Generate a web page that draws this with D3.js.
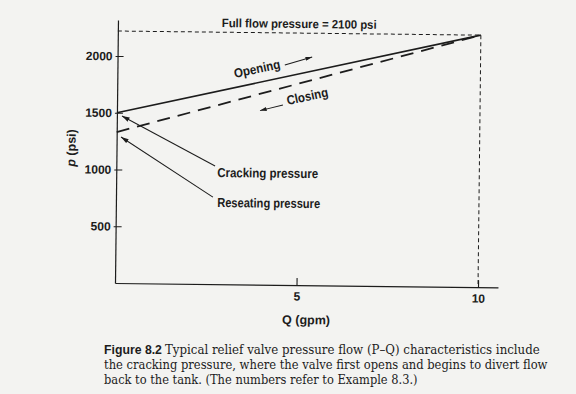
<!DOCTYPE html>
<html>
<head>
<meta charset="utf-8">
<script src="https://cdn.jsdelivr.net/npm/d3@7"></script>
<style>
  html, body { margin: 0; padding: 0; background: #f3f3f1; }
  svg { display: block; }
</style>
</head>
<body>
<svg id="chart" width="576" height="394"></svg>
<script>
// ---- data ----
const flowQ = [0, 10];              // gpm
const openingP = [1500, 2220];      // psi, solid line
const closingP = [1330, 2220];      // psi, dashed line
const fullFlowQ = 10;               // gpm
const fullFlowP = 2220;             // psi (drawn level of the "full flow" dashed line)
const xTicks = [5, 10];
const yTicks = [500, 1000, 1500, 2000];
const titleText = "Full flow pressure = 2100 psi";
const xLabel = "Q (gpm)";
const captionLines = [
  "Typical relief valve pressure flow (P\u2013Q) characteristics include",
  "the cracking pressure, where the valve first opens and begins to divert flow",
  "back to the tank. (The numbers refer to Example 8.3.)"
];

// ---- layout ----
const W = 576, H = 394;
const ink = "#1c1c1c";
const sans = "'Liberation Sans', Arial, Helvetica, sans-serif";
const serif = "'DejaVu Serif', 'Liberation Serif', serif";

const x = d3.scaleLinear().domain([0, 10.55]).range([115, 498]);
const y = d3.scaleLinear().domain([0, 2317]).range([283, 20]);

const svg = d3.select("#chart");
svg.append("rect").attr("width", W).attr("height", H).attr("fill", "#f3f3f1");

const defs = svg.append("defs");
defs.append("marker")
  .attr("id", "head").attr("markerUnits", "userSpaceOnUse")
  .attr("viewBox", "0 0 10 6").attr("refX", 10).attr("refY", 3)
  .attr("markerWidth", 8).attr("markerHeight", 4.6).attr("orient", "auto")
  .append("path").attr("d", "M0,0 L10,3 L0,6 Z").attr("fill", ink);
defs.append("marker")
  .attr("id", "headS").attr("markerUnits", "userSpaceOnUse")
  .attr("viewBox", "0 0 10 6").attr("refX", 10).attr("refY", 3)
  .attr("markerWidth", 7).attr("markerHeight", 4).attr("orient", "auto")
  .append("path").attr("d", "M0,0 L10,3 L0,6 Z").attr("fill", ink);

// whole scanned figure is slightly rotated
const g = svg.append("g").attr("transform", `rotate(0.65, ${x(0)}, ${y(0)})`);

// text placed at (tx,ty), optionally rotated, horizontally scaled to a target width
function fitText(parent, t, tx, ty, len, rot, font, size, weight) {
  const el = parent.append("text").attr("x", 0).attr("y", 0)
    .attr("font-family", font).attr("font-weight", weight || "normal")
    .attr("font-size", size + "px").attr("fill", ink).text(t);
  const n = el.node().getComputedTextLength() || len;
  const sx = len / n;
  el.attr("transform", `translate(${tx},${ty})` + (rot ? ` rotate(${rot})` : "") + ` scale(${sx},1)`);
  return el;
}

// ---- axes ----
const yAxis = d3.axisLeft(y).tickValues(yTicks).tickFormat(d3.format("d"))
  .tickSizeInner(-6).tickSizeOuter(0).tickPadding(5);
const yg = g.append("g").attr("transform", `translate(${x(0)},0)`).call(yAxis);
yg.selectAll(".tick line").attr("x1", -2).attr("x2", 6);

const xAxis = d3.axisBottom(x).tickValues(xTicks).tickFormat(d3.format("d"))
  .tickSizeInner(-7).tickSizeOuter(0).tickPadding(7);
const xg = g.append("g").attr("transform", `translate(0,${y(0)})`).call(xAxis);

[yg, xg].forEach(a => {
  a.select(".domain").attr("stroke", ink).attr("stroke-width", 1.2);
  a.selectAll(".tick line").attr("stroke", ink).attr("stroke-width", 1.1);
  a.selectAll(".tick text").attr("fill", ink).attr("font-family", sans)
    .attr("font-size", "12px").attr("font-weight", "bold");
});

// ---- full flow dashed guides ----
g.append("line")
  .attr("x1", x(0)).attr("x2", x(fullFlowQ))
  .attr("y1", y(fullFlowP)).attr("y2", y(fullFlowP))
  .attr("stroke", ink).attr("stroke-width", 1).attr("stroke-dasharray", "4,3");
g.append("line")
  .attr("x1", x(fullFlowQ)).attr("x2", x(fullFlowQ))
  .attr("y1", y(fullFlowP)).attr("y2", y(0))
  .attr("stroke", ink).attr("stroke-width", 1).attr("stroke-dasharray", "4,3");

// ---- opening / closing lines ----
const line = d3.line().x(d => x(d[0])).y(d => y(d[1]));
g.append("path").datum(flowQ.map((q, i) => [q, openingP[i]]))
  .attr("d", line).attr("fill", "none").attr("stroke", ink).attr("stroke-width", 1.6);
g.append("path").datum(flowQ.map((q, i) => [q, closingP[i]]))
  .attr("d", line).attr("fill", "none").attr("stroke", ink).attr("stroke-width", 1.8)
  .attr("stroke-dasharray", "13,8");

const ang = Math.atan2(y(openingP[1]) - y(openingP[0]), x(flowQ[1]) - x(flowQ[0])) * 180 / Math.PI;

// ---- annotations (anchors in data units) ----
const ann = {
  title: [2.86, 2265],
  opening: [3.24, 1818], openArrow: [[4.61, 1937], [5.36, 2011]],
  closing: [4.70, 1585], closeArrow: [[4.57, 1585], [3.94, 1533]],
  crack: [2.78, 944], crackArrow: [[2.72, 1041], [0.14, 1472]],
  reseat: [2.79, 680], reseatArrow: [[2.67, 767], [0.12, 1287]]
};

function label(t, pos, len, rot, size) {
  return fitText(g, t, x(pos[0]), y(pos[1]), len, rot, sans, size, "bold");
}
function arrow(pts, marker) {
  g.append("line")
    .attr("x1", x(pts[0][0])).attr("y1", y(pts[0][1]))
    .attr("x2", x(pts[1][0])).attr("y2", y(pts[1][1]))
    .attr("stroke", ink).attr("stroke-width", 1)
    .attr("marker-end", `url(#${marker})`);
}

label(titleText, ann.title, 155, 0, 12);
label("Opening", ann.opening, 47, ang, 13);
arrow(ann.openArrow, "headS");
label("Closing", ann.closing, 42, ang, 13);
arrow(ann.closeArrow, "headS");
label("Cracking pressure", ann.crack, 101, 0, 13);
arrow(ann.crackArrow, "head");
label("Reseating pressure", ann.reseat, 103, 0, 13);
arrow(ann.reseatArrow, "head");

// axis titles
g.append("text")
  .attr("x", (x(0) + x(10.55)) / 2).attr("y", y(0) + 39)
  .attr("text-anchor", "middle").attr("font-family", sans).attr("font-weight", "bold")
  .attr("font-size", "12.5px").attr("fill", ink).text(xLabel);

const yl = g.append("text")
  .attr("transform", `translate(${x(0) - 41},${y(1185)}) rotate(-90)`)
  .attr("text-anchor", "middle").attr("font-family", sans).attr("font-weight", "bold")
  .attr("font-size", "12.5px").attr("fill", ink);
yl.append("tspan").attr("font-style", "italic").text("p");
yl.append("tspan").text(" (psi)");

// ---- caption ----
fitText(svg, "Figure 8.2", 104, 353.5, 58, 0, sans, 12.5, "bold");
const capX = [165, 104, 104], capY = [353.5, 369, 383.5], capLen = [375, 444, 314];
captionLines.forEach((t, i) => {
  fitText(svg, t, capX[i], capY[i], capLen[i], 0, serif, 12.5, "normal");
});
</script>
</body>
</html>
